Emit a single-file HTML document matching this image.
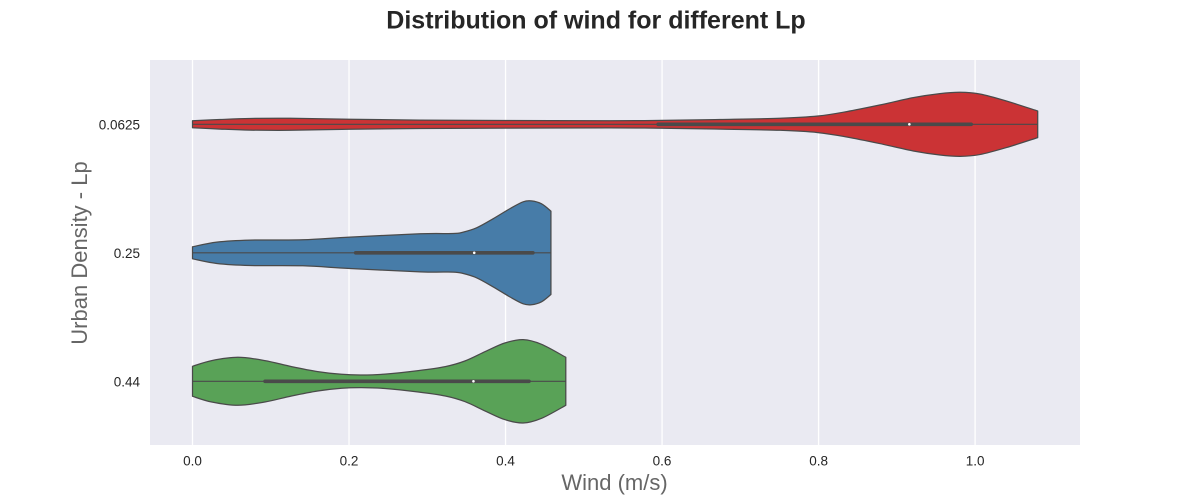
<!DOCTYPE html>
<html lang="en">
<head>
<meta charset="utf-8">
<title>Distribution of wind for different Lp</title>
<style>
  html, body { margin: 0; padding: 0; background: #ffffff; }
  #chart { display: block; width: 1200px; height: 500px; font-family: "Liberation Sans", Arial, sans-serif; }
</style>
</head>
<body>
<svg id="chart" xmlns="http://www.w3.org/2000/svg" width="1200" height="500" viewBox="0 0 1200 500"></svg>
<script>
const categories = ['0.0625', '0.25', '0.44'];
const xTickValues = [0, 0.2, 0.4, 0.6, 0.8, 1.0];
const xTickLabels = ['0.0', '0.2', '0.4', '0.6', '0.8', '1.0'];

const redWind = [0, 0.035, 0.0735, 0.125, 0.2, 0.29, 0.4, 0.533, 0.6, 0.674, 0.751, 0.799, 0.836, 0.878, 0.921, 0.955, 0.981, 1.006, 1.04, 1.08];
const redDensity = [0.068, 0.093, 0.113, 0.117, 0.097, 0.082, 0.074, 0.07, 0.076, 0.093, 0.117, 0.161, 0.247, 0.375, 0.519, 0.597, 0.623, 0.589, 0.453, 0.259];
const blueWind = [0, 0.031, 0.0735, 0.141, 0.201, 0.291, 0.333, 0.346, 0.363, 0.384, 0.406, 0.4225, 0.433, 0.446, 0.458];
const blueDensity = [0.117, 0.208, 0.247, 0.253, 0.305, 0.37, 0.375, 0.403, 0.486, 0.661, 0.862, 0.992, 1.01, 0.953, 0.811];
const greenWind = [0, 0.0245, 0.058, 0.0925, 0.1265, 0.16, 0.1905, 0.216, 0.246, 0.2885, 0.323, 0.348, 0.374, 0.399, 0.4225, 0.446, 0.477];
const greenDensity = [0.292, 0.403, 0.467, 0.403, 0.286, 0.189, 0.136, 0.123, 0.14, 0.208, 0.286, 0.395, 0.578, 0.745, 0.811, 0.72, 0.467];

const whiskerLow = [0, 0, 0];
const quartile1 = [0.595, 0.2085, 0.0927];
const medians = [0.916, 0.36, 0.359];
const quartile3 = [0.995, 0.435, 0.43];
const whiskerHigh = [1.08, 0.458, 0.477];

const svg = document.getElementById('chart');
const NS = 'http://www.w3.org/2000/svg';
const plot = { left: 150, right: 1080, top: 60, bottom: 445 };
const fills = ['#cb3335', '#477ca8', '#59a257'];
const windSeries = [redWind, blueWind, greenWind];
const densitySeries = [redDensity, blueDensity, greenDensity];
const seriesNames = ['red', 'blue', 'green'];

function xScale(v) { return 192.5 + v * 782.6; }
function yScale(i) { return 124.3 + i * 128.5; }
function widthScale(d) { return d * 51.4; }

function make(tag, attrs, parent) {
  const el = document.createElementNS(NS, tag);
  for (const k in attrs) el.setAttribute(k, attrs[k]);
  (parent || svg).appendChild(el);
  return el;
}

function smooth(points) {
  let d = '';
  for (let i = 0; i < points.length - 1; i++) {
    const p0 = points[Math.max(i - 1, 0)];
    const p1 = points[i];
    const p2 = points[i + 1];
    const p3 = points[Math.min(i + 2, points.length - 1)];
    const c1x = p1[0] + (p2[0] - p0[0]) / 6;
    const c1y = p1[1] + (p2[1] - p0[1]) / 6;
    const c2x = p2[0] - (p3[0] - p1[0]) / 6;
    const c2y = p2[1] - (p3[1] - p1[1]) / 6;
    d += ' C' + c1x.toFixed(2) + ',' + c1y.toFixed(2) + ' ' + c2x.toFixed(2) + ',' + c2y.toFixed(2) + ' ' + p2[0].toFixed(2) + ',' + p2[1].toFixed(2);
  }
  return d;
}

const bg = make('rect', { x: plot.left, y: plot.top, width: plot.right - plot.left, height: plot.bottom - plot.top, fill: '#eaeaf2' });



xTickValues.forEach(function (v, i) {
  const grid = make('line', { x1: xScale(v), x2: xScale(v), y1: plot.top, y2: plot.bottom, stroke: '#ffffff', 'stroke-width': 1.3 });
  
  
  const label = make('text', { x: xScale(v), y: 465.5, 'text-anchor': 'middle', 'font-size': 13.5, fill: '#262626' });
  label.textContent = xTickLabels[i];
  
  
});

categories.forEach(function (c, i) {
  const label = make('text', { x: 140, y: yScale(i) + 5, 'text-anchor': 'end', 'font-size': 13.5, fill: '#262626' });
  label.textContent = c;
  
  

  const cy = yScale(i);
  const wind = windSeries[i];
  const density = densitySeries[i];
  const upper = wind.map(function (w, j) { return [xScale(w), cy - widthScale(density[j])]; });
  const lower = wind.map(function (w, j) { return [xScale(w), cy + widthScale(density[j])]; }).reverse();
  const d = 'M' + upper[0][0].toFixed(2) + ',' + upper[0][1].toFixed(2) + smooth(upper) +
            ' L' + lower[0][0].toFixed(2) + ',' + lower[0][1].toFixed(2) + smooth(lower) + ' Z';

  const body = make('path', { d: d, fill: fills[i], stroke: '#4a4a4a', 'stroke-width': 1.25, 'stroke-linejoin': 'round' });
  
  

  const whisker = make('line', { x1: xScale(whiskerLow[i]), x2: xScale(whiskerHigh[i]), y1: cy, y2: cy, stroke: '#4a4a4a', 'stroke-width': 1.1 });
  
  

  const box = make('line', { x1: xScale(quartile1[i]), x2: xScale(quartile3[i]), y1: cy, y2: cy, stroke: '#4a4a4a', 'stroke-width': 3.6, 'stroke-linecap': 'round' });
  
  

  const median = make('circle', { cx: xScale(medians[i]), cy: cy, r: 1.3, fill: '#ffffff' });
  
  
});

const title = make('text', { x: 596, y: 28.5, 'text-anchor': 'middle', 'font-size': 25, 'font-weight': 'bold', fill: '#262626' });
title.textContent = 'Distribution of wind for different Lp';



const xTitle = make('text', { x: 614.5, y: 490, 'text-anchor': 'middle', 'font-size': 22, fill: '#666666' });
xTitle.textContent = 'Wind (m/s)';



const yTitle = make('text', { x: 0, y: 0, transform: 'translate(87,253) rotate(-90)', 'text-anchor': 'middle', 'font-size': 22, fill: '#666666' });
yTitle.textContent = 'Urban Density - Lp';


</script>
</body>
</html>
